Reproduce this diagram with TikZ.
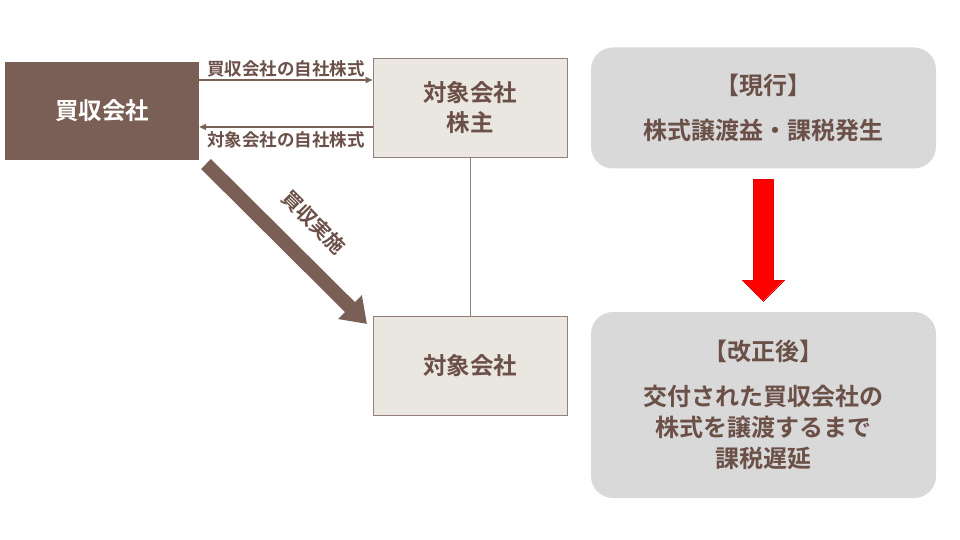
\documentclass[tikz,border=0pt]{standalone}
\usepackage{fontspec}
\setmainfont{Noto Sans CJK JP}[BoldFont={* Bold}]
\usetikzlibrary{arrows.meta,shapes.arrows}
\definecolor{brn}{HTML}{7A5F56}
\definecolor{pale}{HTML}{EAE6E0}
\definecolor{gbox}{HTML}{D9D9D9}
\definecolor{txt}{HTML}{6B5048}
\tikzset{
 sq/.style={draw=brn!80,line width=1pt,fill=pale,minimum width=194pt,minimum height=99pt,text=txt,font=\bfseries\fontsize{23.5}{30}\selectfont,align=center},
 rb/.style={fill=gbox,rounded corners=22pt,minimum width=345pt,text=txt,font=\bfseries\fontsize{24}{31}\selectfont,align=center},
 lbl/.style={text=txt,font=\bfseries\fontsize{17.5}{19}\selectfont},
 thin/.style={draw=brn,line width=1.6pt,-{Triangle[length=7pt,width=6pt]}}
}
\begin{document}
\begin{tikzpicture}[x=1pt,y=-1pt]
\useasboundingbox (0,0) rectangle (960,540);
\node[fill=brn,minimum width=194pt,minimum height=98pt,text=white,font=\bfseries\fontsize{23.5}{28}\selectfont] (buy) at (102,111) {買収会社};
\node[sq] (sh) at (470,108) {対象会社\\株主};
\node[sq] (tg) at (470,366) {対象会社};
\draw[brn!80,line width=1pt] (sh.south) -- (tg.north);
\draw[thin] (buy.east |- 0,80) -- (sh.west |- 0,80) node[lbl,midway,above=-1pt] {買収会社の自社株式};
\draw[thin] (sh.west |- 0,127) -- (buy.east |- 0,127) node[lbl,midway,below=0pt] {対象会社の自社株式};
\coordinate (a1) at (206,164);
\coordinate (a2) at (367,324);
\draw[brn,line width=14pt,-{Triangle[length=24pt,width=32pt]}] (a1) -- (a2);
\node[lbl,font=\bfseries\fontsize{20}{22}\selectfont,rotate=-45,inner sep=0pt] (jl) at (314,222) {買収実施};
\node[rb,minimum height=121pt] (now) at (763.5,108) {【現行】\\[14pt]株式譲渡益・課税発生};
\node[rb,minimum height=186pt] (new) at (763.5,405) {【改正後】\\[14pt]交付された買収会社の\\株式を譲渡するまで\\課税遅延};
\draw[red!90!black,fill=red,line width=0pt] (753,180) -- (773,180) -- (773,280) -- (784,280) -- (763,301) -- (742,280) -- (753,280) -- cycle;
\end{tikzpicture}
\end{document}
